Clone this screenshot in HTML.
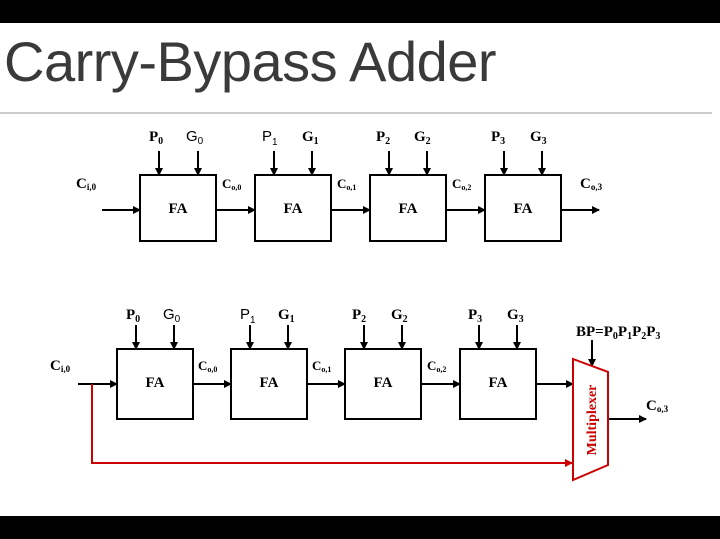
<!DOCTYPE html>
<html><head><meta charset="utf-8"><style>
body{margin:0;width:720px;height:539px;background:#fff;overflow:hidden;position:relative;font-family:"Liberation Serif",serif}
.bar{position:absolute;left:0;width:720px;background:#000}
h1{position:absolute;left:4px;top:29px;margin:0;font:normal 56px "Liberation Sans",sans-serif;color:#3a3a3a;letter-spacing:-0.5px}
</style></head><body>
<div class="bar" style="top:0;height:23px"></div>
<div class="bar" style="top:516px;height:23px"></div>
<h1>Carry-Bypass Adder</h1>
<div style="position:absolute;left:0;top:112px;width:712px;height:2px;background:#ccc"></div>
<svg width="720" height="539" style="position:absolute;left:0;top:0" font-family="Liberation Serif" font-weight="bold">
<defs>
<marker id="a" markerWidth="8" markerHeight="8" refX="7" refY="4" orient="auto" markerUnits="userSpaceOnUse"><path d="M0,0L8,4L0,8z" fill="#000"/></marker>
<marker id="r" markerWidth="8" markerHeight="8" refX="7" refY="4" orient="auto" markerUnits="userSpaceOnUse"><path d="M0,0L8,4L0,8z" fill="#c00"/></marker>
</defs>
<g stroke="#000" stroke-width="2" fill="none">
<rect x="140" y="175" width="76" height="66"/><rect x="255" y="175" width="76" height="66"/>
<rect x="370" y="175" width="76" height="66"/><rect x="485" y="175" width="76" height="66"/>
<g marker-end="url(#a)">
<line x1="102" y1="210" x2="140" y2="210"/><line x1="216" y1="210" x2="255" y2="210"/>
<line x1="331" y1="210" x2="370" y2="210"/><line x1="446" y1="210" x2="485" y2="210"/>
<line x1="561" y1="210" x2="599" y2="210"/>
<line x1="159" y1="151" x2="159" y2="175"/><line x1="198" y1="151" x2="198" y2="175"/>
<line x1="274" y1="151" x2="274" y2="175"/><line x1="312" y1="151" x2="312" y2="175"/>
<line x1="389" y1="151" x2="389" y2="175"/><line x1="427" y1="151" x2="427" y2="175"/>
<line x1="504" y1="151" x2="504" y2="175"/><line x1="542" y1="151" x2="542" y2="175"/>
</g>
<rect x="117" y="349" width="76" height="70"/><rect x="231" y="349" width="76" height="70"/>
<rect x="345" y="349" width="76" height="70"/><rect x="460" y="349" width="76" height="70"/>
<g marker-end="url(#a)">
<line x1="78" y1="384" x2="117" y2="384"/><line x1="193" y1="384" x2="231" y2="384"/>
<line x1="307" y1="384" x2="345" y2="384"/><line x1="421" y1="384" x2="460" y2="384"/>
<line x1="536" y1="384" x2="573" y2="384"/>
<line x1="608" y1="419" x2="646" y2="419"/>
<line x1="592" y1="340" x2="592" y2="366"/>
<line x1="136" y1="325" x2="136" y2="349"/><line x1="174" y1="325" x2="174" y2="349"/>
<line x1="250" y1="325" x2="250" y2="349"/><line x1="288" y1="325" x2="288" y2="349"/>
<line x1="364" y1="325" x2="364" y2="349"/><line x1="402" y1="325" x2="402" y2="349"/>
<line x1="479" y1="325" x2="479" y2="349"/><line x1="517" y1="325" x2="517" y2="349"/>
</g>
</g>
<polyline points="92,384 92,463 572,463" fill="none" stroke="#c00" stroke-width="2" marker-end="url(#r)"/>
<polygon points="573,359 608,372 608,465 573,480" fill="#fff" stroke="#c00" stroke-width="2"/>
<text transform="translate(596,420) rotate(-90)" text-anchor="middle" font-size="14" fill="#c00">Multiplexer</text>
<g font-size="15" text-anchor="middle" fill="#000">
<text x="178" y="213">FA</text><text x="293" y="213">FA</text>
<text x="408" y="213">FA</text><text x="523" y="213">FA</text>
<text x="155" y="387">FA</text><text x="269" y="387">FA</text>
<text x="383" y="387">FA</text><text x="498" y="387">FA</text>
</g>
<g font-size="15" fill="#000">
<text x="149" y="141">P<tspan font-size="10" dy="3">0</tspan></text>
<text x="186" y="141" font-family="Liberation Sans" font-weight="normal">G<tspan font-size="10" dy="3">0</tspan></text>
<text x="262" y="141" font-family="Liberation Sans" font-weight="normal">P<tspan font-size="10" dy="4">1</tspan></text>
<text x="302" y="141">G<tspan font-size="10" dy="3">1</tspan></text>
<text x="376" y="141">P<tspan font-size="10" dy="3">2</tspan></text>
<text x="414" y="141">G<tspan font-size="10" dy="3">2</tspan></text>
<text x="491" y="141">P<tspan font-size="10" dy="3">3</tspan></text>
<text x="530" y="141">G<tspan font-size="10" dy="3">3</tspan></text>
<text x="76" y="188">C<tspan font-size="9" dy="2">i,0</tspan></text>
<text x="222" y="188" font-size="13">C<tspan font-size="8" dy="2">o,0</tspan></text>
<text x="337" y="188" font-size="13">C<tspan font-size="8" dy="2">o,1</tspan></text>
<text x="452" y="188" font-size="13">C<tspan font-size="8" dy="2">o,2</tspan></text>
<text x="580" y="188">C<tspan font-size="9" dy="2">o,3</tspan></text>
<text x="126" y="319">P<tspan font-size="10" dy="3">0</tspan></text>
<text x="163" y="319" font-family="Liberation Sans" font-weight="normal">G<tspan font-size="10" dy="3">0</tspan></text>
<text x="240" y="319" font-family="Liberation Sans" font-weight="normal">P<tspan font-size="10" dy="4">1</tspan></text>
<text x="278" y="319">G<tspan font-size="10" dy="3">1</tspan></text>
<text x="352" y="319">P<tspan font-size="10" dy="3">2</tspan></text>
<text x="391" y="319">G<tspan font-size="10" dy="3">2</tspan></text>
<text x="468" y="319">P<tspan font-size="10" dy="3">3</tspan></text>
<text x="507" y="319">G<tspan font-size="10" dy="3">3</tspan></text>
<text x="576" y="336">BP=P<tspan font-size="10" dy="3">0</tspan><tspan dy="-3">P</tspan><tspan font-size="10" dy="3">1</tspan><tspan dy="-3">P</tspan><tspan font-size="10" dy="3">2</tspan><tspan dy="-3">P</tspan><tspan font-size="10" dy="3">3</tspan></text>
<text x="50" y="370">C<tspan font-size="9" dy="2">i,0</tspan></text>
<text x="198" y="370" font-size="13">C<tspan font-size="8" dy="2">o,0</tspan></text>
<text x="312" y="370" font-size="13">C<tspan font-size="8" dy="2">o,1</tspan></text>
<text x="427" y="370" font-size="13">C<tspan font-size="8" dy="2">o,2</tspan></text>
<text x="646" y="410">C<tspan font-size="9" dy="2">o,3</tspan></text>
</g>
</svg>
</body></html>
